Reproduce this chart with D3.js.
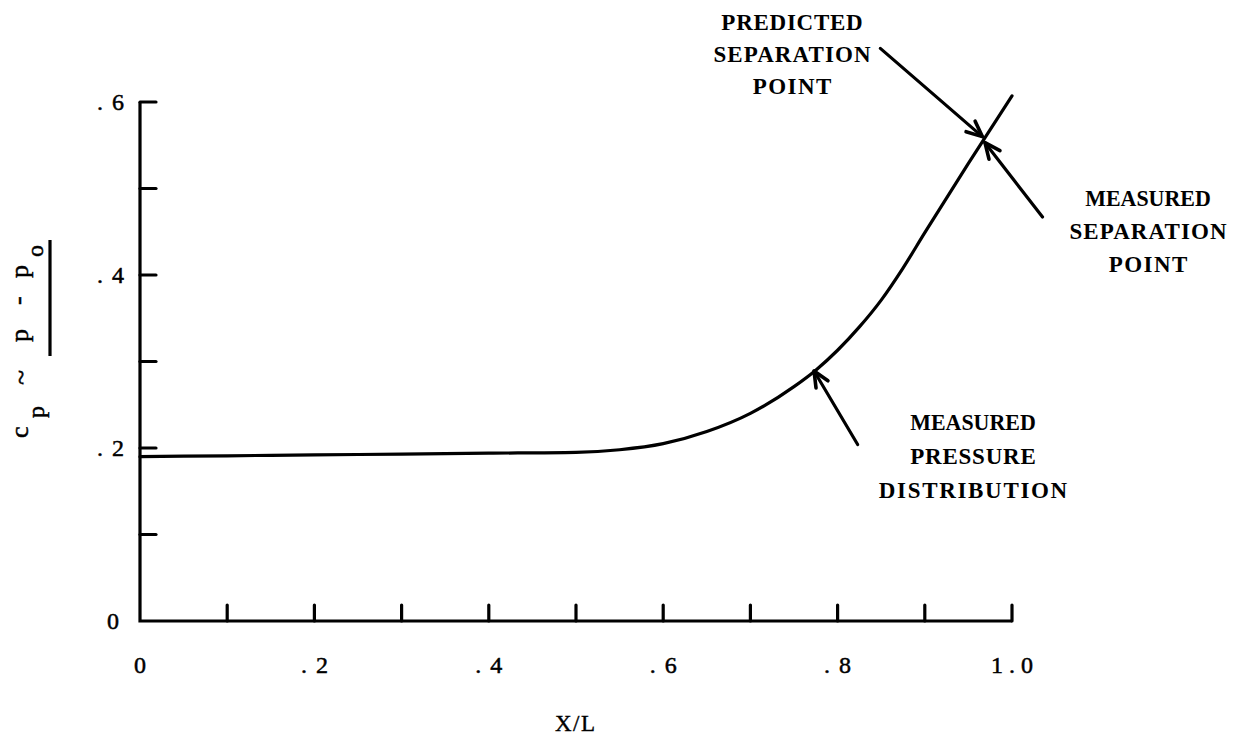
<!DOCTYPE html>
<html>
<head>
<meta charset="utf-8">
<script src="https://cdn.jsdelivr.net/npm/d3@7"></script>
<style>
  html, body { margin: 0; padding: 0; background: #fff; }
  svg { display: block; }
  text { font-family: "Liberation Serif", "DejaVu Serif", serif; fill: #000; }
</style>
</head>
<body>
<svg id="chart" width="1233" height="739"></svg>
<script>
// Measured pressure coefficient along the body, c_p vs X/L
const xOverL = [0, 0.1, 0.2, 0.3, 0.4, 0.5, 0.55, 0.6, 0.65, 0.7, 0.75, 0.775, 0.8, 0.825, 0.85, 0.875, 0.9, 0.95, 1.0];
const cp     = [0.190, 0.191, 0.192, 0.193, 0.194, 0.195, 0.198, 0.205, 0.219, 0.240, 0.271, 0.290, 0.313, 0.340, 0.371, 0.408, 0.449, 0.529, 0.607];

// Axis ticks and their labels
const xTicks = [0, 0.1, 0.2, 0.3, 0.4, 0.5, 0.6, 0.7, 0.8, 0.9, 1.0];
const xTickLabels = ["0", ".2", ".4", ".6", ".8", "1.0"];
const xLabelValues = [0, 0.2, 0.4, 0.6, 0.8, 1.0];
const yTicks = [0, 0.1, 0.2, 0.3, 0.4, 0.5, 0.6];
const yTickLabels = ["0", ".2", ".4", ".6"];
const yLabelValues = [0, 0.2, 0.4, 0.6];

// Callouts: arrow from tail to tip (data units), label lines
const calloutLines = [
  ["PREDICTED", "SEPARATION", "POINT"],
  ["MEASURED", "SEPARATION", "POINT"],
  ["MEASURED", "PRESSURE", "DISTRIBUTION"]
];
const calloutTips  = [[0.966, 0.560], [0.969, 0.553], [0.773, 0.289]];
const calloutTails = [[0.849, 0.662], [1.035, 0.467], [0.823, 0.204]];

const svg = d3.select("#chart");
const x = d3.scaleLinear().domain([0, 1]).range([140, 1012]);
const y = d3.scaleLinear().domain([0, 0.6]).range([621, 102]);

const ink = "#000";
const g = svg.append("g");

// typewriter-style spacing: fixed advance per character;
// glyphs are squeezed only when the natural width exceeds the slot
const typed = (sel, adv, trim) => sel.each(function () {
  const n = this.textContent.length;
  if (n < 2) return;
  const target = n * adv - (trim || 0);
  const natural = this.getComputedTextLength();
  d3.select(this).attr("textLength", target)
    .attr("lengthAdjust", natural > target ? "spacingAndGlyphs" : "spacing");
});

// Axes: left and bottom spines with inward ticks
g.append("path")
  .attr("d", `M${x(0)},${y(0.6)}V${y(0)}H${x(1)}`)
  .attr("fill", "none").attr("stroke", ink).attr("stroke-width", 3.2)
  .attr("stroke-linejoin", "miter");

g.selectAll(".ytick").data(yTicks.filter(d => d > 0)).join("line")
  .attr("x1", x(0)).attr("x2", x(0) + 16)
  .attr("y1", d => y(d)).attr("y2", d => y(d))
  .attr("stroke", ink).attr("stroke-width", 3.2).attr("stroke-linecap", "round");

g.selectAll(".xtick").data(xTicks.filter(d => d > 0)).join("line")
  .attr("x1", d => x(d)).attr("x2", d => x(d))
  .attr("y1", y(0)).attr("y2", y(0) - 16)
  .attr("stroke", ink).attr("stroke-width", 3.2).attr("stroke-linecap", "round");

// Tick labels
g.selectAll(".xlab").data(xLabelValues).join("text")
  .attr("x", d => x(d)).attr("y", 673)
  .attr("text-anchor", "middle").attr("font-size", 24)
  .attr("stroke", ink).attr("stroke-width", 0.5)
  .text((d, i) => xTickLabels[i])
  .call(typed, 15, 3);

g.selectAll(".ylab").data(yLabelValues).join("text")
  .attr("x", d => d === 0 ? 119 : 124).attr("y", d => y(d) + 8)
  .attr("text-anchor", "end").attr("font-size", 24)
  .attr("stroke", ink).attr("stroke-width", 0.5)
  .text((d, i) => yTickLabels[i])
  .call(typed, 15, 3);

// Axis titles
g.append("text").attr("x", 575).attr("y", 731)
  .attr("text-anchor", "middle").attr("font-size", 23)
  .attr("stroke", ink).attr("stroke-width", 0.4)
  .text("X/L").call(typed, 14, 2);

const yt = g.append("g").attr("transform", "translate(28,340) rotate(-90)")
  .attr("stroke", ink).attr("stroke-width", 0.5);
yt.append("text").attr("x", -98).attr("y", 0).attr("font-size", 26).text("c");
yt.append("text").attr("x", -78).attr("y", 16).attr("font-size", 24).text("p");
yt.append("text").attr("x", -45).attr("y", 2).attr("font-size", 28).text("~");
yt.append("text").attr("x", -2).attr("y", 0).attr("font-size", 26).text("p");
yt.append("text").attr("x", 35).attr("y", -2).attr("font-size", 26).text("-");
yt.append("text").attr("x", 62).attr("y", 0).attr("font-size", 26).text("p");
yt.append("text").attr("x", 83).attr("y", 15).attr("font-size", 24).text("o");
yt.append("line").attr("x1", -16).attr("x2", 100).attr("y1", 22).attr("y2", 22)
  .attr("stroke", ink).attr("stroke-width", 3.2);

// Pressure distribution curve
const line = d3.line()
  .x((d, i) => x(xOverL[i]))
  .y(d => y(d))
  .curve(d3.curveMonotoneX);
g.append("path").datum(cp)
  .attr("d", line)
  .attr("fill", "none").attr("stroke", ink).attr("stroke-width", 3.2)
  .attr("stroke-linecap", "round");

// Callout arrows with open barbed heads
calloutTips.forEach((tip, i) => {
  const tail = calloutTails[i];
  const tx = x(tip[0]), ty = y(tip[1]);
  const sx = x(tail[0]), sy = y(tail[1]);
  const ang = Math.atan2(sy - ty, sx - tx);
  const len = 17, spread = 0.42;
  const b1 = [tx + len * Math.cos(ang + spread), ty + len * Math.sin(ang + spread)];
  const b2 = [tx + len * Math.cos(ang - spread), ty + len * Math.sin(ang - spread)];
  g.append("line").attr("x1", sx).attr("y1", sy).attr("x2", tx).attr("y2", ty)
    .attr("stroke", ink).attr("stroke-width", 3.2).attr("stroke-linecap", "round");
  g.append("path")
    .attr("d", `M${b1[0]},${b1[1]}L${tx},${ty}L${b2[0]},${b2[1]}`)
    .attr("fill", "none").attr("stroke", ink).attr("stroke-width", 3.6)
    .attr("stroke-linecap", "round").attr("stroke-linejoin", "round");
});

// Callout labels
const labelAnchors = [[792, 30, 32], [1148, 206, 33], [973, 430, 34]];
calloutLines.forEach((lines, i) => {
  const [cx, by, lh] = labelAnchors[i];
  lines.forEach((t, j) => {
    g.append("text").attr("x", cx).attr("y", by + j * lh)
      .attr("text-anchor", "middle").attr("font-size", 23)
      .attr("font-weight", "bold").text(t)
      .call(typed, 15.7, 0);
  });
});
</script>
</body>
</html>
